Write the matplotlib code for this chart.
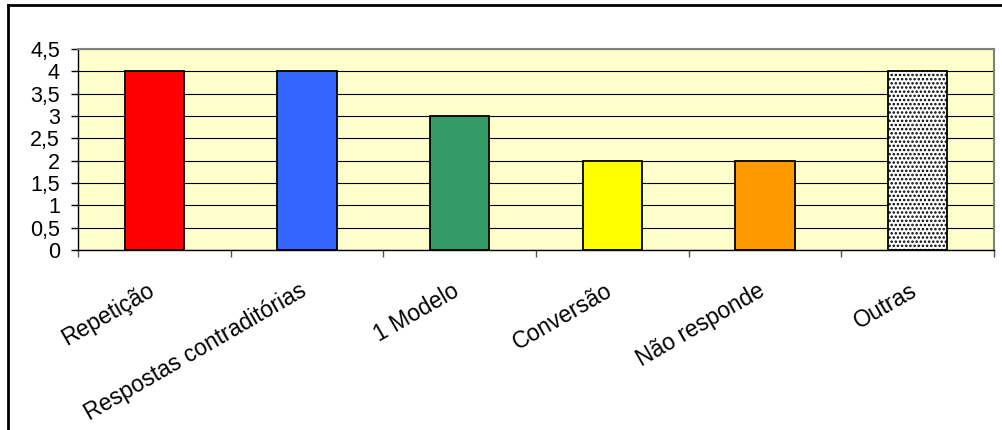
import matplotlib

matplotlib.use("Agg")
import matplotlib.pyplot as plt
from matplotlib.lines import Line2D
from matplotlib.ticker import FuncFormatter, MultipleLocator
import matplotlib.transforms as mtransforms

categories = ["Repetição", "Respostas contraditórias", "1 Modelo",
              "Conversão", "Não responde", "Outras"]
values = [4, 4, 3, 2, 2, 4]
colors = ["#FF0000", "#3366FF", "#339966", "#FFFF00", "#FF9900", "#FFFFFF"]
hatches = [None, None, None, None, None, "...."]

plt.rcParams["font.family"] = ["Liberation Sans", "DejaVu Sans"]
plt.rcParams["hatch.linewidth"] = 1.2
plt.rcParams["hatch.color"] = "#333333"

W, H = 1002, 430
fig = plt.figure(figsize=(W / 100, H / 100), dpi=100)

# outer chart frame (only top and left visible in the crop)
fig.add_artist(Line2D([8 / W, 1.0], [1 - 5 / H, 1 - 5 / H], color="black", lw=2,
                      transform=fig.transFigure))
fig.add_artist(Line2D([8 / W, 8 / W], [0, 1 - 5 / H], color="black", lw=2,
                      transform=fig.transFigure))

ax = fig.add_axes([78 / W, 180 / H, 916 / W, 201 / H])
ax.set_facecolor("#FFFFCC")

x = list(range(len(categories)))
bars = ax.bar(x, values, width=0.39, color=colors, edgecolor="black",
              linewidth=1.3, zorder=3)
for b, h in zip(bars, hatches):
    if h:
        b.set_hatch(h)

ax.set_xlim(-0.5, len(categories) - 0.5)
ax.set_ylim(0, 4.5)
ax.yaxis.set_major_locator(MultipleLocator(0.5))
ax.yaxis.set_major_formatter(FuncFormatter(lambda v, p: f"{v:g}".replace(".", ",")))
ax.grid(axis="y", color="black", lw=0.8, zorder=1)
ax.set_axisbelow(True)

ax.set_xticks([i - 0.5 for i in range(len(categories) + 1)])
ax.set_xticklabels([])
ax.tick_params(axis="x", direction="out", length=5, width=1, color="#555555")
ax.tick_params(axis="y", direction="out", length=5, width=1, pad=8,
               labelsize=15.5)

for side in ["top", "right"]:
    ax.spines[side].set_color("#808080")
    ax.spines[side].set_linewidth(1.5)
for side in ["left", "bottom"]:
    ax.spines[side].set_color("black")
    ax.spines[side].set_linewidth(1)

off = mtransforms.ScaledTranslation(-8 / 100, -29 / 100, fig.dpi_scale_trans)
trans = mtransforms.blended_transform_factory(ax.transData, ax.transAxes) + off
for i, lab in enumerate(categories):
    ax.text(i, 0, lab, transform=trans, rotation=30, rotation_mode="anchor",
            ha="right", va="top", fontsize=16.5)

fig.savefig("out.png", dpi=100)
